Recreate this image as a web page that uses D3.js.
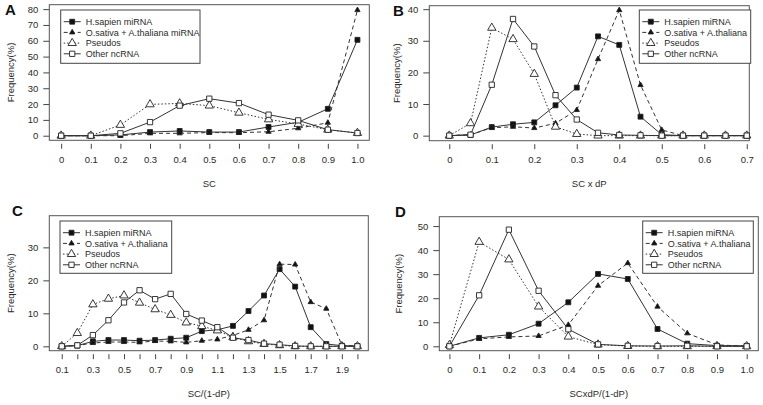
<!DOCTYPE html>
<html><head><meta charset="utf-8">
<script src="https://cdn.jsdelivr.net/npm/d3@7"></script>
<style>body{margin:0;background:#fff}svg{display:block;font-family:"Liberation Sans",Arial,sans-serif}</style>
</head><body><svg id="c" width="763" height="405"></svg>
<script>
// ---------- DATA ----------
const legendA = ["H.sapien miRNA", "O.sativa + A.thaliana miRNA", "Pseudos", "Other ncRNA"];
const legendBCD = ["H.sapien miRNA", "O.sativa + A.thaliana", "Pseudos", "Other ncRNA"];

// Panel A: SC
const xA = [0, 0.1, 0.2, 0.3, 0.4, 0.5, 0.6, 0.7, 0.8, 0.9, 1.0];
const hsapA = [0, 0, 0.5, 2.3, 3.0, 2.3, 2.3, 5.5, 8.5, 17, 60.6];
const osatA = [0, 0, 0, 1.5, 1.5, 2.0, 1.9, 2.5, 4.7, 8.2, 79.4];
const pseuA = [0, 0, 6.8, 19.8, 20.4, 19.0, 14.5, 10.3, 7.4, 3.8, 1.7];
const otherA = [0, 0, 1.5, 8.6, 19.0, 23.4, 20.6, 13.3, 9.7, 3.8, 1.7];
const xTicksA = ["0", "0.1", "0.2", "0.3", "0.4", "0.5", "0.6", "0.7", "0.8", "0.9", "1.0"];
const yTicksA = [0, 10, 20, 30, 40, 50, 60, 70, 80];

// Panel B: SC x dP
const xB = [0, 0.05, 0.1, 0.15, 0.2, 0.25, 0.3, 0.35, 0.4, 0.45, 0.5, 0.55, 0.6, 0.65, 0.7];
const hsapB = [0, 0.2, 2.7, 3.6, 4.2, 9.6, 15.2, 31.4, 28.7, 6.0, 0.3, 0, 0, 0, 0];
const osatB = [0, 0.3, 2.5, 2.8, 2.4, 3.9, 8.1, 24.2, 39.7, 16.0, 1.8, 0, 0, 0, 0];
const pseuB = [0, 3.9, 34.1, 30.5, 19.5, 2.8, 0.5, 0, 0, 0, 0, 0, 0, 0, 0];
const otherB = [0, 0.3, 16.1, 36.9, 28.2, 12.8, 5.1, 0.9, 0.2, 0.1, 0, 0, 0, 0, 0];
const xTicksB = ["0", "0.1", "0.2", "0.3", "0.4", "0.5", "0.6", "0.7"];
const yTicksB = [0, 10, 20, 30, 40];

// Panel C: SC/(1-dP)
const xC = [0.1, 0.2, 0.3, 0.4, 0.5, 0.6, 0.7, 0.8, 0.9, 1.0, 1.1, 1.2, 1.3, 1.4, 1.5, 1.6, 1.7, 1.8, 1.9, 2.0];
const hsapC = [0, 0.2, 1.5, 1.9, 1.9, 1.7, 1.9, 2.3, 2.6, 4.6, 5.0, 6.2, 10.7, 15.4, 23.4, 18.1, 5.8, 0.7, 0.2, 0.1];
const osatC = [0, 0.2, 1.0, 1.3, 1.3, 1.2, 1.6, 1.5, 1.2, 1.7, 2.1, 3.3, 5.0, 7.9, 24.9, 24.8, 13.4, 11.4, 0.4, 0];
const pseuC = [0, 4.0, 12.7, 14.4, 15.4, 13.2, 11.2, 9.5, 7.2, 6.1, 4.8, 2.7, 1.5, 0.7, 0.3, 0, 0, 0, 0, 0];
const otherC = [0, 0.3, 3.4, 7.9, 13.3, 17.0, 14.3, 15.9, 9.8, 7.8, 5.8, 2.6, 1.9, 0.8, 0.5, 0.1, 0, 0, 0, 0];
const xTickValsC = [0.1, 0.2, 0.3, 0.4, 0.5, 0.6, 0.7, 0.8, 0.9, 1.0, 1.1, 1.2, 1.3, 1.4, 1.5, 1.6, 1.7, 1.8, 1.9, 2.0];
const xTickLabelsC = ["0.1", "", "0.3", "", "0.5", "", "0.7", "", "0.9", "", "1.1", "", "1.3", "", "1.5", "", "1.7", "", "1.9", ""];
const yTicksC = [0, 10, 20, 30];

// Panel D: SCxdP/(1-dP)
const xD = [0, 0.1, 0.2, 0.3, 0.4, 0.5, 0.6, 0.7, 0.8, 0.9, 1.0];
const hsapD = [0, 3.5, 4.8, 9.4, 18.3, 30.1, 28.0, 7.2, 1.1, 0.3, 0.2];
const osatD = [0, 3.1, 3.9, 4.3, 8.9, 25.2, 34.6, 16.5, 5.4, 0.6, 0];
const pseuD = [0.5, 43.4, 36.1, 16.5, 4.0, 0.7, 0.1, 0, 0, 0, 0];
const otherD = [0, 21.2, 48.5, 23.1, 7.1, 0.8, 0.2, 0.1, 0.2, 0, 0];
const xTicksD = ["0", "0.1", "0.2", "0.3", "0.4", "0.5", "0.6", "0.7", "0.8", "0.9", "1.0"];
const yTicksD = [0, 10, 20, 30, 40, 50];

// ---------- STYLES ----------
const styles = [
  {dash: null, sym: d3.symbolSquare, size: 24, fill: "#111"},
  {dash: "4,3", sym: d3.symbolTriangle, size: 12, fill: "#111"},
  {dash: "1.5,2", sym: d3.symbolTriangle, size: 30, fill: "#fff"},
  {dash: null, sym: d3.symbolSquare, size: 28, fill: "#fff"}
];
const ink = "#2a2a2a";

const panels = [
  {letter: "A", title: "SC", box: [49.3, 369.3, 4.7, 140.3], xd: [-0.04, 1.04], yd: [-2.9, 82.8],
   x: xA, ys: [hsapA, osatA, pseuA, otherA], xtv: xA, xtl: xTicksA, ytv: yTicksA,
   legend: legendA, leg: [60.7, 10, 139.3, 53.3], letterPos: [5, 15], ylabX: 11},
  {letter: "B", title: "SC x dP", box: [429.3, 749.3, 5.7, 140.7], xd: [-0.047, 0.706], yd: [-1.6, 41.1],
   x: xB, ys: [hsapB, osatB, pseuB, otherB], xtv: [0, 0.1, 0.2, 0.3, 0.4, 0.5, 0.6, 0.7], xtl: xTicksB, ytv: yTicksB,
   legend: legendBCD, leg: [639.3, 10, 111.4, 53.3], letterPos: [393, 16], ylabX: 397},
  {letter: "C", title: "SC/(1-dP)", box: [49.3, 368.3, 215.7, 350.7], xd: [0.02, 2.07], yd: [-1.33, 39.6],
   x: xC, ys: [hsapC, osatC, pseuC, otherC], xtv: xTickValsC, xtl: xTickLabelsC, ytv: yTicksC,
   legend: legendBCD, leg: [60, 221, 111.7, 52.3], letterPos: [12, 216], ylabX: 11},
  {letter: "D", title: "SCxdP/(1-dP)", box: [439.3, 758.3, 216.7, 350.7], xd: [-0.034, 1.039], yd: [-1.83, 53.9],
   x: xD, ys: [hsapD, osatD, pseuD, otherD], xtv: xD, xtl: xTicksD, ytv: yTicksD,
   legend: legendBCD, leg: [642.7, 221, 110.6, 52.3], letterPos: [395, 217], ylabX: 399}
];

const svg = d3.select("#c");
svg.append("rect").attr("width", 763).attr("height", 405).attr("fill", "#fff");

panels.forEach(p => {
  const [x0, x1, y0, y1] = p.box;
  const xs = d3.scaleLinear().domain(p.xd).range([x0, x1]);
  const ys = d3.scaleLinear().domain(p.yd).range([y1, y0]);
  const g = svg.append("g");

  // axes
  const xAxis = d3.axisBottom(xs).tickValues(p.xtv).tickSize(5).tickPadding(7)
    .tickFormat((d, i) => p.xtl[i]);
  const gx = g.append("g").attr("transform", `translate(0,${y1 + 3.5})`).call(xAxis);
  gx.select(".domain").remove();
  gx.selectAll("line").attr("stroke", "#444");
  gx.selectAll("text").attr("font-size", 9.5).attr("fill", ink)
    .attr("font-family", '"Liberation Sans",Arial,sans-serif');

  const yAxis = d3.axisLeft(ys).tickValues(p.ytv).tickSize(6).tickPadding(5);
  const gy = g.append("g").attr("transform", `translate(${x0},0)`).call(yAxis);
  gy.select(".domain").remove();
  gy.selectAll("line").attr("stroke", "#444");
  gy.selectAll("text").attr("font-size", 9.5).attr("fill", ink)
    .attr("font-family", '"Liberation Sans",Arial,sans-serif');

  // box
  g.append("rect").attr("x", x0).attr("y", y0).attr("width", x1 - x0).attr("height", y1 - y0)
    .attr("fill", "none").attr("stroke", "#555").attr("stroke-width", 1);

  // series
  p.ys.forEach((vals, si) => {
    const st = styles[si];
    const line = d3.line().x((d, i) => xs(p.x[i])).y(d => ys(d));
    g.append("path").datum(vals).attr("d", line).attr("fill", "none")
      .attr("stroke", "#333").attr("stroke-width", 1)
      .attr("stroke-dasharray", st.dash);
    g.selectAll(null).data(vals).enter().append("path")
      .attr("d", d3.symbol().type(st.sym).size(st.size))
      .attr("transform", (d, i) => `translate(${xs(p.x[i])},${ys(d)})`)
      .attr("fill", st.fill).attr("stroke", "#222").attr("stroke-width", 0.9);
  });

  // legend
  const [lx, ly, lw, lh] = p.leg;
  const lg = g.append("g");
  lg.append("rect").attr("x", lx).attr("y", ly).attr("width", lw).attr("height", lh)
    .attr("fill", "#fff").attr("stroke", "#444").attr("stroke-width", 1);
  p.legend.forEach((name, i) => {
    const st = styles[i];
    const cy = ly + 11.7 + i * 10.7;
    lg.append("line").attr("x1", lx + 3).attr("x2", lx + 20).attr("y1", cy).attr("y2", cy)
      .attr("stroke", "#333").attr("stroke-width", 1).attr("stroke-dasharray", st.dash);
    lg.append("path").attr("d", d3.symbol().type(st.sym).size(st.size))
      .attr("transform", `translate(${lx + 11.5},${cy})`)
      .attr("fill", st.fill).attr("stroke", "#222").attr("stroke-width", 0.9);
    lg.append("text").attr("x", lx + 25).attr("y", cy).attr("dy", "0.35em")
      .attr("font-size", 9).attr("fill", ink).text(name);
  });

  // titles
  g.append("text").attr("x", (x0 + x1) / 2).attr("y", y1 + 43).attr("dy", "0.35em")
    .attr("text-anchor", "middle").attr("font-size", 9.5).attr("fill", ink).text(p.title);
  g.append("text").attr("transform", `translate(${p.ylabX},${(y0 + y1) / 2}) rotate(-90)`)
    .attr("dy", "0.35em").attr("text-anchor", "middle").attr("font-size", 9.5).attr("fill", ink)
    .text("Frequency(%)");
  g.append("text").attr("x", p.letterPos[0]).attr("y", p.letterPos[1])
    .attr("font-size", 15).attr("font-weight", "bold").attr("fill", "#111").text(p.letter);
});
</script></body></html>
